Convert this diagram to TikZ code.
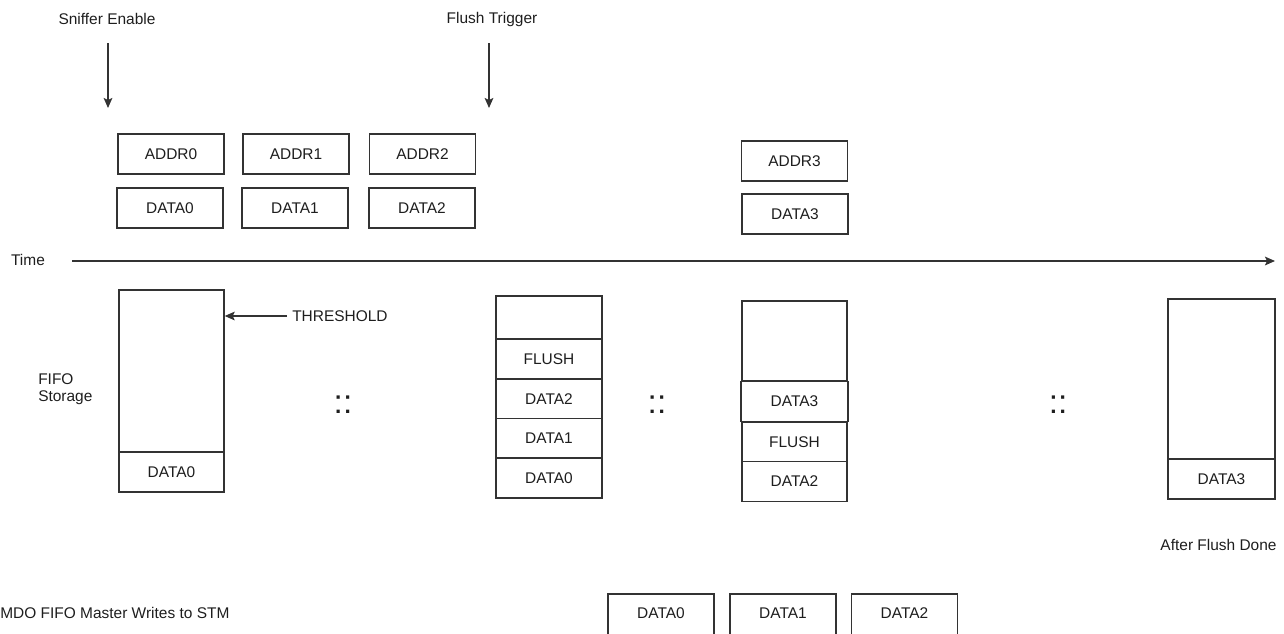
\documentclass[tikz,border=0pt]{standalone}
\usepackage{fontspec}
\setmainfont{Liberation Sans}
\usetikzlibrary{arrows.meta}
\definecolor{ink}{HTML}{1E1E1E}
\definecolor{edge}{HTML}{333333}
\begin{document}
\begin{tikzpicture}[x=0.75pt,y=-0.75pt,
  every node/.style={text=ink,font=\fontsize{11.6}{14}\selectfont},
  cell/.style={draw=edge,line width=1.05pt,minimum width=79.5pt,minimum height=30pt,inner sep=0pt,fill=white},
  arr/.style={draw=edge,line width=1.05pt,-{Stealth[length=7.5pt,width=6.5pt,inset=1.5pt]}},
  dots/.style={font=\fontsize{25}{25}\selectfont,inner sep=0pt}]
\useasboundingbox (0,0) rectangle (1284,633);
\clip (0,0) rectangle (1284,633);

% triggers
\node (se) at (107,19) {Sniffer Enable};
\coordinate (se1) at (108,43);
\coordinate (se2) at (108,108);
\draw[arr] (se1) -- (se2);
\node (ft) at (492,19) {Flush Trigger};
\coordinate (ft1) at (489,43);
\coordinate (ft2) at (489,108);
\draw[arr] (ft1) -- (ft2);

% bus transactions
\node[cell] (a0) at (171,154) {ADDR0};
\node[cell] (a1) at (296,154) {ADDR1};
\node[cell] (a2) at (422.5,154) {ADDR2};
\node[cell] (d0) at (170,208) {DATA0};
\node[cell] (d1) at (295,208) {DATA1};
\node[cell] (d2) at (422,208) {DATA2};
\node[cell] (a3) at (794.5,161) {ADDR3};
\node[cell] (d3) at (795,214) {DATA3};

% time axis
\node (time) at (28,260) {Time};
\coordinate (t1) at (72,261);
\coordinate (t2) at (1275,261);
\draw[arr] (t1) -- (t2);

% FIFO 1
\node[align=left,anchor=west,inner sep=0pt] (fs) at (38,389) {FIFO\\[-1.5pt]Storage};
\node[cell,minimum width=78.75pt,minimum height=121.5pt] (f1e) at (171.5,371) {};
\node[cell,minimum width=78.75pt] (f1d0) at (171.5,472) {DATA0};
\node[anchor=west,inner sep=3.75pt] (thr) at (287,316) {THRESHOLD};
\draw[arr] (thr.west) -- (thr.west -| f1e.east);

\node[dots] (dt1) at (343,405) {::};

% FIFO 2
\node[cell,minimum height=32.25pt] (f2e) at (549,317.5) {};
\node[cell] (f2fl) at (549,359) {FLUSH};
\node[cell] (f2d2) at (549,399) {DATA2};
\node[cell] (f2d1) at (549,438.5) {DATA1};
\node[cell] (f2d0) at (549,478) {DATA0};

\node[dots] (dt2) at (657,405) {::};

% FIFO 3
\node[cell,minimum width=78.75pt,minimum height=60pt] (f3e) at (794.5,341) {};
\node[cell,minimum width=78.75pt] (f3fl) at (794.5,442) {FLUSH};
\node[cell,minimum width=78.75pt] (f3d2) at (794.5,481.5) {DATA2};
\node[cell,minimum width=80.25pt] (f3d3) at (794.5,401.5) {DATA3};

\node[dots] (dt3) at (1058,405) {::};

% FIFO 4
\node[cell,minimum width=80.25pt,minimum height=120pt] (f4e) at (1221.5,379) {};
\node[cell,minimum width=80.25pt] (f4d3) at (1221.5,479) {DATA3};
\node (afd) at (1218.5,545) {After Flush Done};

% master writes (boxes run past the lower edge)
\node[anchor=west,inner sep=0pt] (mdo) at (0,613) {MDO FIFO Master Writes to STM};
\tikzset{wcell/.style={cell,minimum height=34.5pt,text depth=6pt}}
\node[wcell] (w0) at (661,617) {DATA0};
\node[wcell] (w1) at (783,617) {DATA1};
\node[wcell] (w2) at (904.5,617) {DATA2};
\end{tikzpicture}
\end{document}
